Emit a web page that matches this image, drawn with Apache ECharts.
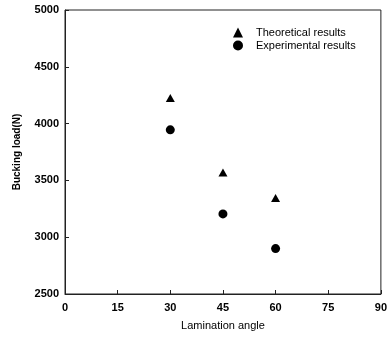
<!DOCTYPE html>
<html>
<head>
<meta charset="utf-8">
<script src="https://cdn.jsdelivr.net/npm/echarts@6/dist/echarts.min.js"></script>
<style>
  html, body { margin: 0; padding: 0; background: #fff; }
  #chart { width: 390px; height: 338px; }
</style>
</head>
<body>
<div id="chart"></div>
<script>
const angles = [30, 45, 60];
const theoretical = [4225, 3570, 3345];
const experimental = [3945, 3205, 2900];
const xTicks = [0, 15, 30, 45, 60, 75, 90];
const yTicks = [2500, 3000, 3500, 4000, 4500, 5000];

const chart = echarts.init(document.getElementById('chart'));
const font = 'Liberation Sans, Arial, sans-serif';

chart.setOption({
  animation: false,
  grid: {
    left: 65, right: 9, top: 10, bottom: 44,
    show: true, borderColor: '#222', borderWidth: 1
  },
  legend: {
    orient: 'vertical',
    left: 228, top: 22,
    itemWidth: 10, itemHeight: 10, itemGap: 2,
    textStyle: { color: '#000', fontSize: 11, fontFamily: font, padding: [0, 0, 0, 8] },
    data: [
      { name: 'Theoretical results', icon: 'triangle' },
      { name: 'Experimental results', icon: 'circle' }
    ]
  },
  xAxis: {
    type: 'value',
    min: xTicks[0], max: xTicks[xTicks.length - 1], interval: 15,
    name: 'Lamination angle',
    nameLocation: 'middle', nameGap: 26,
    nameTextStyle: { color: '#000', fontSize: 11, fontFamily: font },
    axisLine: { lineStyle: { color: '#222' } },
    axisTick: { inside: true, length: 4, lineStyle: { color: '#222' } },
    axisLabel: { color: '#000', fontSize: 11, fontWeight: 'bold', fontFamily: font, margin: 8,
      formatter: v => String(v) },
    splitLine: { show: false }
  },
  yAxis: {
    type: 'value',
    min: yTicks[0], max: yTicks[yTicks.length - 1], interval: 500,
    name: 'Bucking load(N)',
    nameLocation: 'middle', nameGap: 43,
    nameTextStyle: { color: '#000', fontSize: 10, fontWeight: 'bold', fontFamily: font },
    axisLine: { lineStyle: { color: '#222' } },
    axisTick: { inside: true, length: 4, lineStyle: { color: '#222' } },
    axisLabel: { color: '#000', fontSize: 11, fontWeight: 'bold', fontFamily: font, margin: 6,
      formatter: v => String(v) },
    splitLine: { show: false }
  },
  series: [
    {
      name: 'Theoretical results',
      type: 'scatter',
      symbol: 'triangle',
      symbolSize: [9, 8],
      itemStyle: { color: '#000', opacity: 1 },
      data: angles.map((a, i) => [a, theoretical[i]])
    },
    {
      name: 'Experimental results',
      type: 'scatter',
      symbol: 'circle',
      symbolSize: 9,
      itemStyle: { color: '#000', opacity: 1 },
      data: angles.map((a, i) => [a, experimental[i]])
    }
  ]
});
</script>
</body>
</html>
